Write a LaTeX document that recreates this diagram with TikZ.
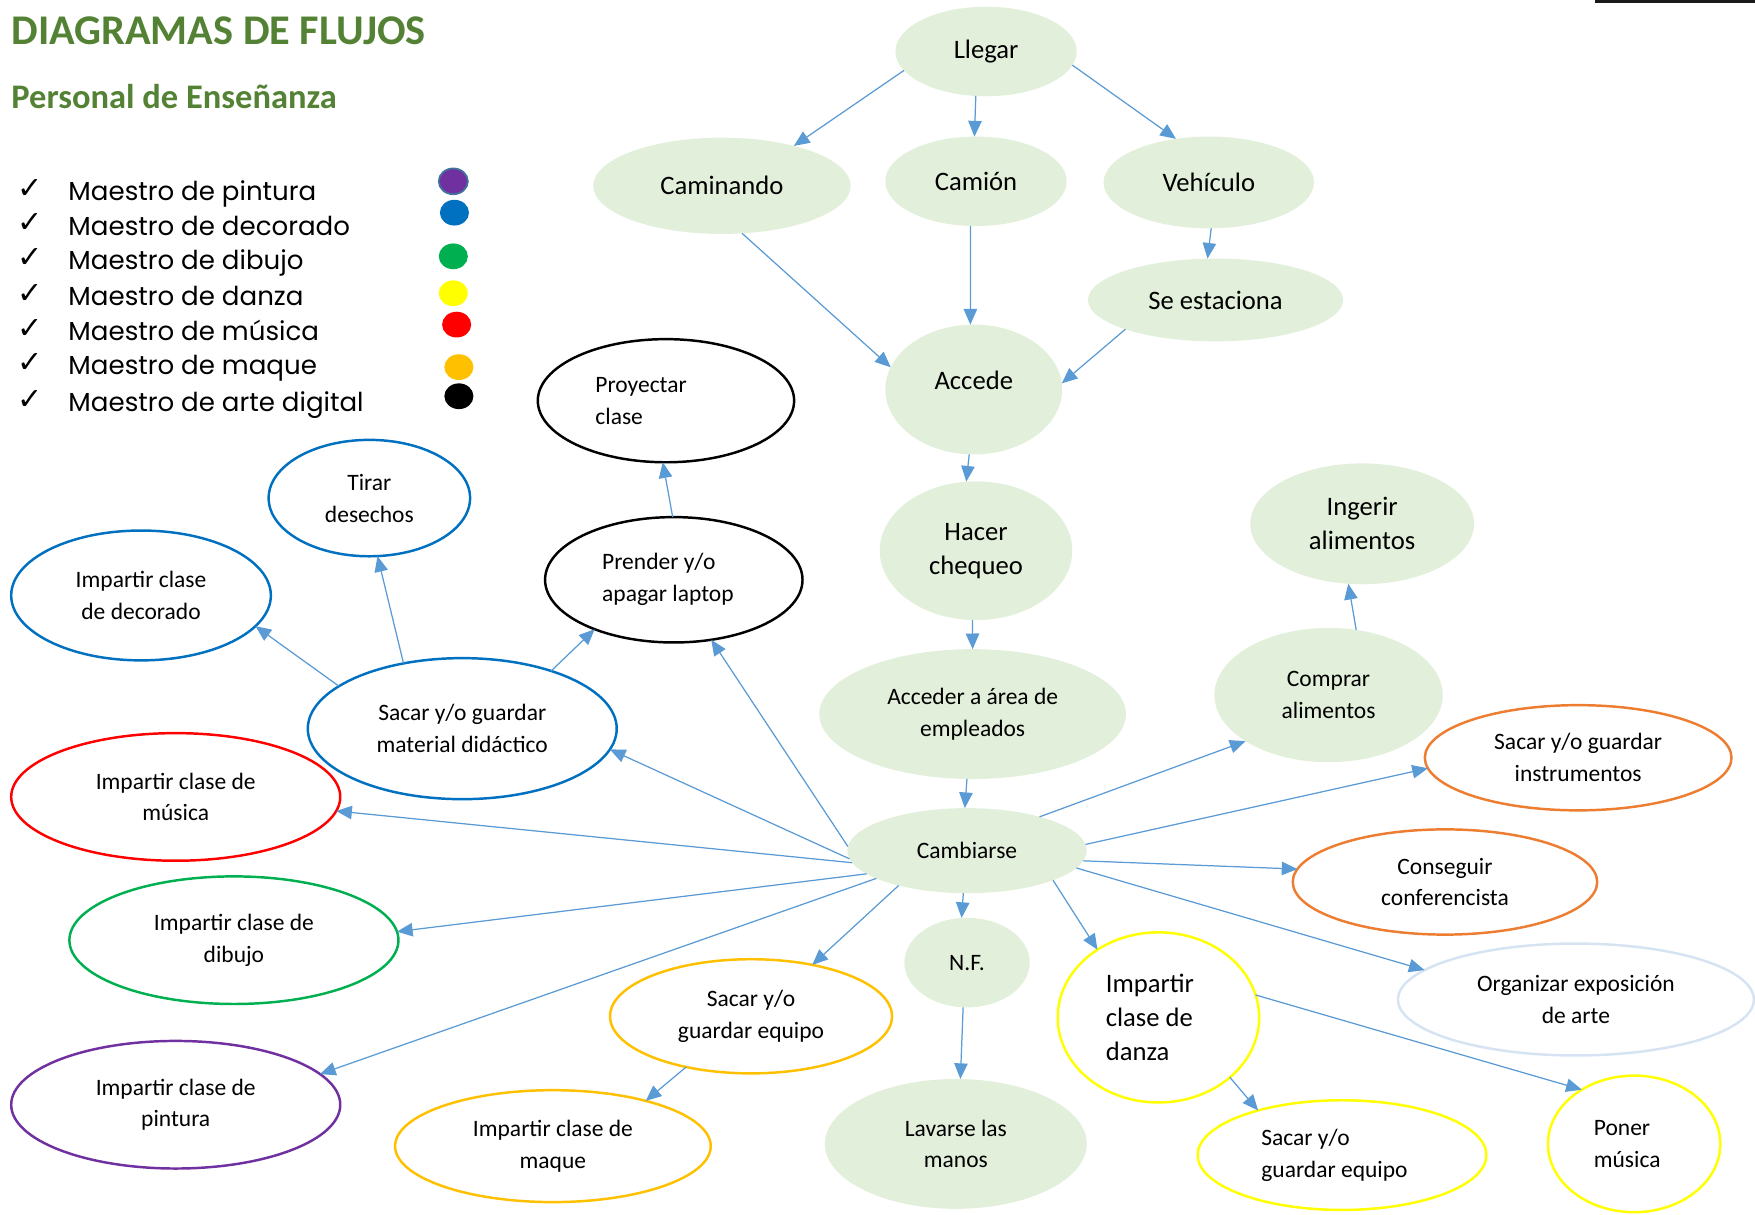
\documentclass[tikz,border=0pt]{standalone}
\usepackage{fontspec}
\setmainfont{Carlito}
\newfontfamily\legfont{Poppins}
\newfontfamily\symfont{DejaVu Sans}
\usepackage{tikz}
\usetikzlibrary{shapes.geometric,arrows.meta}

\definecolor{lgreen}{HTML}{E2EFDA}
\definecolor{titlegreen}{HTML}{548235}
\definecolor{arrowblue}{HTML}{5B9BD5}
\definecolor{mblue}{HTML}{0070C0}
\definecolor{mred}{HTML}{FF0000}
\definecolor{mgreen}{HTML}{00B050}
\definecolor{mpurple}{HTML}{7030A0}
\definecolor{mgold}{HTML}{FFC000}
\definecolor{myellow}{HTML}{FFFF00}
\definecolor{morange}{HTML}{ED7D31}
\definecolor{mpale}{HTML}{D6E3F2}
\definecolor{rimblue}{HTML}{41719C}

\begin{document}
\begin{tikzpicture}[x=1pt,y=-1pt]
    \tikzstyle{task}=[ellipse, fill=lgreen, inner sep=0pt, outer sep=0pt, align=center]
    \tikzstyle{role}=[ellipse, draw, line width=2.2pt, fill=white, inner sep=0pt, outer sep=0pt, align=center]
    \tikzstyle{big}=[font=\fontsize{23.8}{30.5}\selectfont]
    \tikzstyle{small}=[font=\fontsize{21}{28.5}\selectfont]
    \tikzstyle{connect}=[-{Triangle[length=14pt,width=12pt]}, line width=1.1pt, draw=arrowblue, fill=arrowblue]
    \tikzstyle{legtext}=[anchor=base west, inner sep=0pt, font=\legfont\fontsize{23.3}{28}\selectfont]
    \tikzstyle{dot}=[ellipse, inner sep=0pt, minimum width=26pt, minimum height=23pt]

    \useasboundingbox (0,0) rectangle (1568,1085);
    \fill[black!90] (1425,0) rectangle (1568,3);

    % titulo y leyenda
    \node[anchor=base west, inner sep=0pt, text=titlegreen, font=\bfseries\fontsize{37.8}{42}\selectfont] (title) at (10,40) {DIAGRAMAS DE FLUJOS};
    \node[anchor=base west, inner sep=0pt, text=titlegreen, font=\bfseries\fontsize{30.8}{34}\selectfont] (subtitle) at (10,97) {Personal de Enseñanza};

    \node[legtext] (l1) at (61,179) {Maestro de pintura};
    \node[legtext] (l2) at (61,210) {Maestro de decorado};
    \node[legtext] (l3) at (61,241) {Maestro de dibujo};
    \node[legtext] (l4) at (61,273) {Maestro de danza};
    \node[legtext] (l5) at (61,304) {Maestro de música};
    \node[legtext] (l6) at (61,335) {Maestro de maque};
    \node[legtext] (l7) at (61,368) {Maestro de arte digital};
    \foreach \n/\y in {1/177,2/208,3/239,4/271,5/302,6/333,7/366}
      \node[anchor=base, inner sep=0pt, font=\symfont\fontsize{27}{30}\selectfont] (chk\n) at (27,\y) {✓};

    \node[dot, fill=mpurple, draw=rimblue, line width=1.6pt] (c1) at (405,162) {};
    \node[dot, fill=mblue] (c2) at (406,190) {};
    \node[dot, fill=mgreen] (c3) at (405,229) {};
    \node[dot, fill=myellow] (c4) at (405,262) {};
    \node[dot, fill=mred] (c5) at (408,290) {};
    \node[dot, fill=mgold] (c6) at (410,328) {};
    \node[dot, fill=black] (c7) at (410,354) {};

    % flujo principal
    \node[task, big, minimum width=162pt, minimum height=80pt] (llegar) at (881,46) {Llegar};
    \node[task, big, minimum width=230pt, minimum height=86pt] (camin) at (645,166) {Caminando};
    \node[task, big, minimum width=162pt, minimum height=80pt] (camion) at (872,162) {Camión};
    \node[task, big, minimum width=188pt, minimum height=82pt] (vehic) at (1080,163) {Vehículo};
    \node[task, big, minimum width=228pt, minimum height=74pt] (seest) at (1086,268) {Se estaciona};
    \node[task, big, minimum width=158pt, minimum height=116pt] (accede) at (870,348) {\raisebox{8pt}[\height][\depth]{Accede}};
    \node[task, big, minimum width=172pt, minimum height=124pt] (chequeo) at (872,492) {Hacer\\chequeo};
    \node[task, big, minimum width=200pt, minimum height=108pt] (ingerir) at (1217,468) {Ingerir\\alimentos};
    \node[task, small, minimum width=274pt, minimum height=116pt] (acceder) at (869,638) {Acceder a área de\\empleados};
    \node[task, small, minimum width=204pt, minimum height=120pt] (comprar) at (1187,621) {Comprar\\alimentos};
    \node[task, small, minimum width=214pt, minimum height=76pt] (cambiarse) at (864,760) {Cambiarse};
    \node[task, small, minimum width=112pt, minimum height=80pt] (nf) at (864,860) {N.F.};
    \node[task, small, minimum width=234pt, minimum height=116pt] (lavarse) at (854,1022) {Lavarse las\\manos};

    % tareas por maestro
    \node[role, small, draw=black, minimum width=229pt, minimum height=110pt, text width=126pt, align=flush left] (proyectar) at (595,358) {Proyectar\\clase};
    \node[role, small, draw=black, minimum width=230pt, minimum height=112pt, text width=128pt, align=flush left] (prender) at (602,518) {Prender y/o\\apagar laptop};
    \node[role, small, draw=mblue, minimum width=180pt, minimum height=104pt] (tirar) at (330,445) {Tirar\\desechos};
    \node[role, small, draw=mblue, minimum width=232pt, minimum height=116pt] (decorado) at (126,532) {Impartir clase\\de decorado};
    \node[role, small, draw=mblue, minimum width=276pt, minimum height=126pt] (material) at (413,651) {Sacar y/o guardar\\material didáctico};
    \node[role, small, draw=mred, minimum width=294pt, minimum height=114pt] (musica) at (157,712) {Impartir clase de\\música};
    \node[role, small, draw=mgreen, minimum width=294pt, minimum height=114pt] (dibujo) at (209,840) {Impartir clase de\\dibujo};
    \node[role, small, draw=mpurple, minimum width=294pt, minimum height=114pt] (pintura) at (157,987) {Impartir clase de\\pintura};
    \node[role, small, draw=mgold, minimum width=252pt, minimum height=102pt] (equipom) at (671,908) {Sacar y/o\\guardar equipo};
    \node[role, small, draw=mgold, minimum width=282pt, minimum height=100pt] (maque) at (494,1024) {Impartir clase de\\maque};
    \node[role, small, draw=morange, minimum width=274pt, minimum height=94pt] (instr) at (1410,677) {Sacar y/o guardar\\instrumentos};
    \node[role, small, draw=morange, minimum width=272pt, minimum height=94pt] (confer) at (1291,788) {Conseguir\\conferencista};
    \node[role, small, draw=mpale, minimum width=318pt, minimum height=100pt] (organizar) at (1408,893) {Organizar exposición\\de arte};
    \node[role, big, draw=myellow, minimum width=180pt, minimum height=152pt, text width=94pt, align=flush left] (danza) at (1035,909) {Impartir\\clase de\\danza};
    \node[role, small, draw=myellow, minimum width=258pt, minimum height=98pt, text width=144pt, align=flush left] (equipod) at (1199,1032) {Sacar y/o\\guardar equipo};
    \node[role, small, draw=myellow, minimum width=154pt, minimum height=122pt, text width=72pt, align=flush left] (poner) at (1460,1022) {Poner\\música};

    \path
      (llegar.193) edge [connect] (camin.29)
      (llegar.257) edge [connect] (camion.92)
      (llegar.351) edge [connect] (vehic.127)
      (camin.293) edge [connect] (accede.165)
      (camion.263) edge [connect] (accede.93)
      (vehic.273) edge [connect] (seest.101)
      (seest.198) edge [connect] (accede.4)
      (accede.266) edge [connect] (chequeo.98)
      (chequeo.267) edge [connect] (acceder.90)
      (acceder.265) edge [connect] (cambiarse.93)
      (cambiarse.265) edge [connect] (nf.97)
      (nf.265) edge [connect] (lavarse.86)
      (cambiarse.25) edge [connect] (comprar.209)
      (comprar.67) edge [connect] (ingerir.257)
      (cambiarse.3) edge [connect] (instr.184)
      (cambiarse.355) edge [connect] (confer.175)
      (cambiarse.351) edge [connect] (organizar.169)
      (cambiarse.341) edge [connect] (danza.132)
      (danza.13) edge [connect] (poner.134)
      (danza.320) edge [connect] (equipod.152)
      (cambiarse.207) edge [connect] (equipom.40)
      (equipom.218) edge [connect] (maque.26)
      (cambiarse.197) edge [connect] (pintura.12)
      (cambiarse.193) edge [connect] (dibujo.3)
      (cambiarse.186) edge [connect] (musica.355)
      (cambiarse.184) edge [connect] (material.352)
      (cambiarse.178) edge [connect] (prender.302)
      (material.161) edge [connect] (decorado.345)
      (material.132) edge [connect] (tirar.278)
      (material.33) edge [connect] (prender.212)
      (prender.91) edge [connect] (proyectar.267);
\end{tikzpicture}
\end{document}
